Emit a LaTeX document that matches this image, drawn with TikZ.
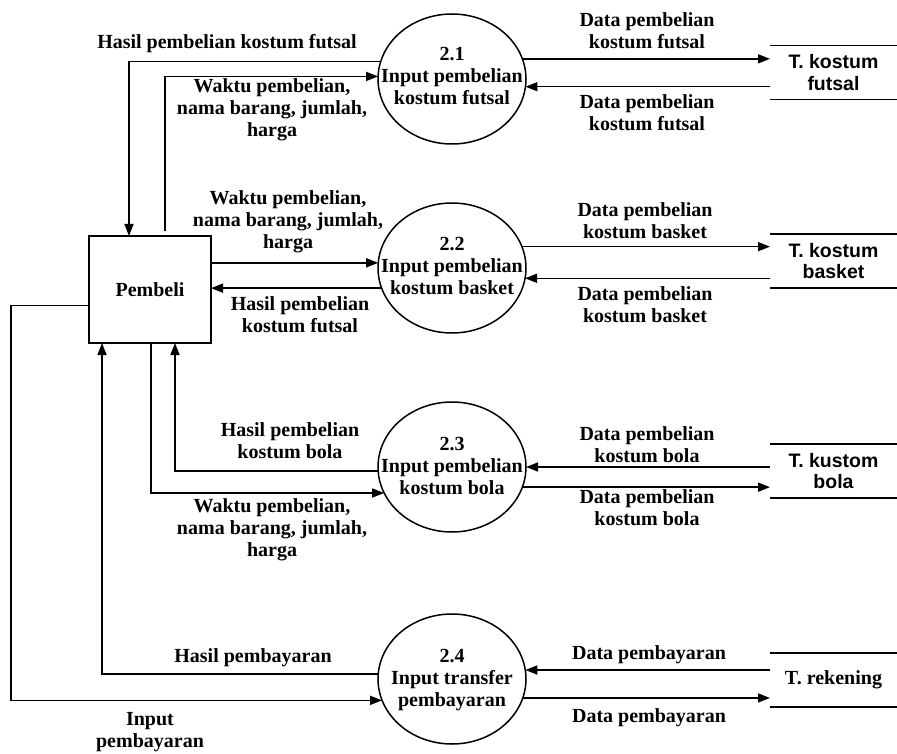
\documentclass[tikz,border=0pt]{standalone}
\usepackage{fontspec}
\setmainfont{Liberation Serif}
\newfontfamily\storesans{Liberation Sans}
\usetikzlibrary{arrows.meta,calc,shapes.geometric}
\begin{document}
\begin{tikzpicture}[x=1pt,y=-1pt,
  every node/.style={font=\bfseries\fontsize{20}{22}\selectfont, inner sep=0pt, outer sep=0pt},
  proc/.style={draw, ellipse, minimum width=148pt, minimum height=130pt, line width=1.5pt},
  entity/.style={draw, minimum width=122pt, minimum height=107pt, line width=1.5pt},
  store/.style={minimum width=127pt, minimum height=54pt, align=center},
  sanslabel/.style={font=\storesans\bfseries\fontsize{19.5}{21.5}\selectfont},
  lbl/.style={align=center},
  flow/.style={line width=1.5pt, -{Triangle[length=12pt,width=9pt]}},
  rule/.style={line width=1.5pt}]
\useasboundingbox (0,0) rectangle (897,754);

% external entity
\node[entity] (pb) at (150,289.5) {Pembeli};
\coordinate (lft) at (11,0);

% processes
\node[proc] (c21) at (452,79) {};
\node[lbl] (t21) at (452,76) {2.1\\Input pembelian\\kostum futsal};
\node[proc] (c22) at (452,268) {};
\node[lbl] (t22) at (452,266) {2.2\\Input pembelian\\kostum basket};
\node[proc] (c23) at (452,467) {};
\node[lbl] (t23) at (452,466) {2.3\\Input pembelian\\kostum bola};
\node[proc] (c24) at (452,679) {};
\node[lbl] (t24) at (452,680) {2.4\\Input transfer\\pembayaran};

% data stores
\node[store,sanslabel] (s1) at (833.5,72.5) {T. kostum\\futsal};
\node[store,sanslabel] (s2) at (833.5,261) {T. kostum\\basket};
\node[store,sanslabel] (s3) at (833.5,471) {T. kustom\\bola};
\node[store] (s4) at (833.5,680) {T. rekening};
\foreach \s in {s1,s2,s3,s4}{
  \draw[rule] (\s.north west) -- (\s.north east) (\s.south west) -- (\s.south east);
}

% flows of process 2.1
\draw[flow] (c21.166.6) -| ($(pb.north)+(-21,0)$);
\draw[flow] ($(pb.north)+(15,-5)$) |- (c21.178.5);
\draw[flow] (c21.16.7) -- (c21.16.7 -| s1.west);
\draw[flow] (c21.354.6 -| s1.west) -- (c21.354.6);
\node[lbl] (l1) at (227,44) {Hasil pembelian kostum futsal};
\node[lbl] (l2) at (272,110) {Waktu pembelian,\\nama barang, jumlah,\\harga};
\node[lbl] (l3) at (647,31) {Data pembelian\\kostum futsal};
\node[lbl] (l4) at (647,113) {Data pembelian\\kostum futsal};

% flows of process 2.2
\draw[flow] (pb.east |- c22.176.1) -- (c22.176.1);
\draw[flow] (c22.196.7) -- (c22.196.7 -| pb.east);
\draw[flow] (c22.17.5) -- (c22.17.5 -| s2.west);
\draw[flow] (c22.352.2 -| s2.west) -- (c22.352.2);
\node[lbl] (l5) at (288,222) {Waktu pembelian,\\nama barang, jumlah,\\harga};
\node[lbl] (l6) at (300,315) {Hasil pembelian\\kostum futsal};
\node[lbl] (l7) at (645,220.5) {Data pembelian\\kostum basket};
\node[lbl] (l8) at (645,305) {Data pembelian\\kostum basket};

% flows of process 2.3
\draw[flow] (c23.183.1) -| ($(pb.south)+(25,0)$);
\draw[flow] ($(pb.south)+(1,0)$) |- (c23.201.0);
\draw[flow] (c23.0.8 -| s3.west) -- (c23.0.8);
\draw[flow] (c23.344.1) -- (c23.344.1 -| s3.west);
\node[lbl] (l9) at (290,441) {Hasil pembelian\\kostum bola};
\node[lbl] (l10) at (272,530) {Waktu pembelian,\\nama barang, jumlah,\\harga};
\node[lbl] (l11) at (647,445) {Data pembelian\\kostum bola};
\node[lbl] (l12) at (647,508) {Data pembelian\\kostum bola};

% flows of process 2.4
\draw[flow] (c24.176.1) -| ($(pb.south)+(-48,0)$);
\draw[flow] ($(pb.west)+(0,16)$) -| (lft |- c24.197.5) -- (c24.197.5);
\draw[flow] (c24.7.8 -| s4.west) -- (c24.7.8);
\draw[flow] (c24.345.8) -- (c24.345.8 -| s4.west);
\node[lbl] (l13) at (253,658) {Hasil pembayaran};
\node[lbl] (l14) at (150,732) {Input\\pembayaran};
\node[lbl] (l15) at (649,655) {Data pembayaran};
\node[lbl] (l16) at (649,718) {Data pembayaran};
\end{tikzpicture}
\end{document}
